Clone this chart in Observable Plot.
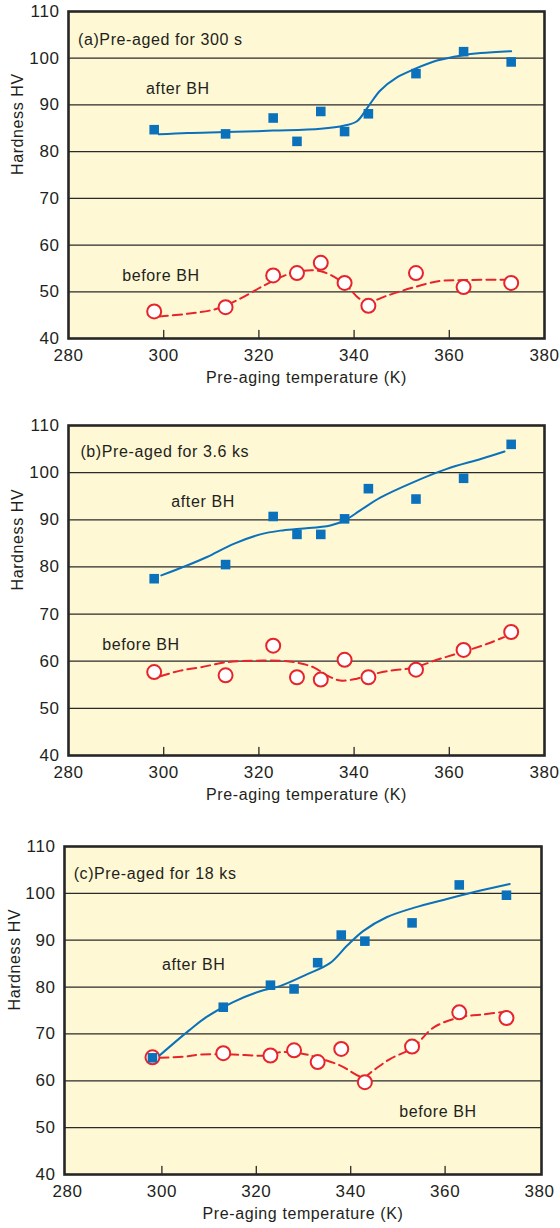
<!DOCTYPE html>
<html><head><meta charset="utf-8">
<script src="https://cdn.jsdelivr.net/npm/d3@7"></script>
<script src="https://cdn.jsdelivr.net/npm/@observablehq/plot@0.6"></script>
<style>
body{margin:0;background:#fff;}
#chart{width:560px;}
#chart svg{display:block;}
#chart text{letter-spacing:0.6px;}
</style></head><body><div id="chart"></div>
<script>
// ---- data ----
const temps = [298, 313, 323, 328, 333, 338, 343, 353, 363, 373];

// (a) Pre-aged for 300 s
const afterA  = [84.7, 83.8, 87.2, 82.2, 88.6, 84.3, 88.1, 96.7, 101.4, 99.2];
const beforeA = [45.8, 46.7, 53.5, 54.0, 56.2, 51.9, 47.0, 54.0, 51.0, 51.9];
const fitAfterAx  = [299, 305, 313, 323, 333, 338, 340.6, 343, 345.5, 349, 352.5, 357.4, 362.6, 366.6, 373];
const fitAfterAy  = [83.7, 84.0, 84.2, 84.5, 84.9, 85.6, 86.5, 89.7, 93.1, 95.9, 97.6, 99.5, 100.6, 101.1, 101.5];
const fitBeforeAx = [299, 305, 311, 316, 321, 325, 328, 333, 338, 341, 343, 347, 352, 358, 363, 373];
const fitBeforeAy = [44.7, 45.3, 46.3, 48.5, 51.3, 53.3, 54.3, 54.4, 51.7, 48.6, 47.8, 49.2, 50.8, 52.3, 52.5, 52.6];

// (b) Pre-aged for 3.6 ks
const afterB  = [77.5, 80.5, 90.7, 86.9, 86.9, 90.2, 96.6, 94.4, 98.8, 106.0];
const beforeB = [57.7, 57.0, 63.3, 56.6, 56.1, 60.3, 56.6, 58.2, 62.4, 66.2];
const fitAfterBx  = [299.5, 304.9, 309.1, 314.7, 320.3, 324.5, 328.7, 335, 337.9, 341.3, 345.5, 352.5, 359.5, 366.6, 371.6];
const fitAfterBy  = [78.2, 80.3, 82.1, 84.9, 86.9, 87.7, 88.1, 88.8, 89.8, 92.0, 94.7, 98.0, 100.8, 102.9, 104.5];
const fitBeforeBx = [299.3, 303.5, 307.7, 313.3, 318.9, 324.5, 328, 331.5, 334.3, 337.1, 340.6, 343, 347.6, 352.5, 357.4, 362.6, 368, 371.5];
const fitBeforeBy = [56.8, 58.0, 58.7, 59.8, 60.1, 60.1, 59.7, 58.7, 57.0, 55.9, 56.3, 57.0, 58.0, 58.6, 60.3, 61.9, 63.7, 65.1];

// (c) Pre-aged for 18 ks
const afterC  = [64.9, 75.7, 80.4, 79.6, 85.2, 91.1, 89.8, 93.7, 101.8, 99.6];
const beforeC = [65.0, 65.9, 65.4, 66.5, 64.0, 66.8, 59.7, 67.3, 74.6, 73.4];
const fitAfterCx  = [299.5, 305.7, 309.4, 315.1, 320.8, 325, 330.7, 335.6, 339.2, 342.7, 347.6, 353.3, 360.4, 367.5, 373.7];
const fitAfterCy  = [65.4, 70.7, 73.6, 76.8, 79.1, 80.2, 82.7, 85.1, 88.8, 92.0, 94.9, 96.9, 98.8, 100.6, 102.0];
const fitBeforeCx = [299.5, 305.2, 308, 315.1, 322.2, 325, 329.2, 332.8, 337.7, 342.7, 344.8, 348.4, 353.1, 357.6, 363.3, 367.5, 373.1];
const fitBeforeCy = [64.9, 65.2, 65.6, 65.6, 65.4, 66.1, 65.9, 65.0, 63.3, 60.8, 62.2, 64.7, 67.0, 71.4, 73.6, 74.1, 74.8];

// axis ticks and texts
const xTicks = [280, 300, 320, 340, 360, 380];
const xInnerTicks = [300, 320, 340, 360];
const yTicks = [40, 50, 60, 70, 80, 90, 100, 110];
const gridVals = [50, 60, 70, 80, 90, 100];
const xTitle = "Pre-aging temperature (K)";
const yTitle = "Hardness HV";
const panelTitles = ["(a)Pre-aged for 300 s", "(b)Pre-aged for 3.6 ks", "(c)Pre-aged for 18 ks"];
const afterLabel = "after BH";
const beforeLabel = "before BH";
// annotation anchors (data units: temperature, hardness)
const titlePos  = [[282, 104], [282.5, 104.5], [281.3, 104.1]];
const afterPos  = [[296.3, 93.4], [301.6, 93.9], [300, 84.7]];
const beforePos = [[291.3, 53.3], [287.1, 63.5], [350.3, 53.3]];

// ---- styles ----
const BLUE = "#0a71ba";
const RED = "#e8242b";
const BG = "#fef8d4";
const INK = "#231f20";

// inward tick shape for the vector mark (upward stroke of given length)
const tickUp = {draw(context, l) { context.moveTo(0, 0); context.lineTo(0, -l); }};

function zip(xs, ys) { return xs.map((x, i) => ({x, y: ys[i]})); }

function panel(i, after, before, fitA, fitB, geo) {
  const labels = [
    {x: titlePos[i][0], y: titlePos[i][1], t: panelTitles[i]},
    {x: afterPos[i][0], y: afterPos[i][1], t: afterLabel},
    {x: beforePos[i][0], y: beforePos[i][1], t: beforeLabel}
  ];
  return Plot.plot({
    width: 560,
    height: geo.height,
    marginTop: geo.top,
    marginBottom: geo.bottom,
    marginLeft: geo.left,
    marginRight: geo.right,
    x: {domain: [280, 380], insetLeft: geo.insetLeft || 0, insetRight: geo.insetRight || 0},
    y: {domain: [40, 110]},
    style: {fontFamily: "'Liberation Sans', Arial, sans-serif", fontSize: "16px", color: INK, background: "white", overflow: "visible"},
    marks: [
      Plot.frame({fill: BG, stroke: null}),
      Plot.ruleY(gridVals, {stroke: "#2a2a2a", strokeWidth: 1.2}),
      Plot.vector(xInnerTicks, {x: d => d, frameAnchor: "bottom", length: 8, anchor: "start", shape: tickUp, stroke: "#2a2a2a", strokeWidth: 1.3}),
      Plot.axisX({ticks: xTicks, tickSize: 0, tickPadding: 10, tickFormat: d => String(d), fontSize: 17, label: null}),
      Plot.axisY({ticks: yTicks, tickSize: 0, tickPadding: 9, tickFormat: d => String(d), fontSize: 17, label: null}),
      Plot.text([xTitle], {frameAnchor: "bottom", dy: 44, fill: INK, fontSize: 16}),
      Plot.text([yTitle], {frameAnchor: "left", rotate: -90, dx: geo.ylab, fill: INK, fontSize: 16}),
      Plot.text(labels, {x: "x", y: "y", text: "t", textAnchor: "start", fill: INK, fontSize: 16}),
      Plot.line(fitB, {x: "x", y: "y", curve: "catmull-rom", stroke: RED, strokeWidth: 2, strokeDasharray: "9,5"}),
      Plot.dot(zip(temps, before), {x: "x", y: "y", r: 7, fill: "white", stroke: RED, strokeWidth: 2}),
      Plot.line(fitA, {x: "x", y: "y", curve: "catmull-rom", stroke: BLUE, strokeWidth: 2}),
      Plot.dot(zip(temps, after), {x: "x", y: "y", symbol: "square", r: 5.4, fill: BLUE}),
      Plot.frame({stroke: "#262626", strokeWidth: 2.6})
    ]
  });
}

const chart = document.getElementById("chart");
chart.append(panel(0, afterA, beforeA, zip(fitAfterAx, fitAfterAy), zip(fitBeforeAx, fitBeforeAy),
  {height: 405, top: 11, bottom: 67, left: 68, right: 16, ylab: -51}));
chart.append(panel(1, afterB, beforeB, zip(fitAfterBx, fitAfterBy), zip(fitBeforeBx, fitBeforeBy),
  {height: 415, top: 20, bottom: 65, left: 68, right: 16, ylab: -51}));
chart.append(panel(2, afterC, beforeC, zip(fitAfterCx, fitAfterCy), zip(fitBeforeCx, fitBeforeCy),
  {height: 408, top: 26, bottom: 54, left: 64, right: 19, insetLeft: 3, insetRight: 2, ylab: -50}));
</script>
</body></html>
